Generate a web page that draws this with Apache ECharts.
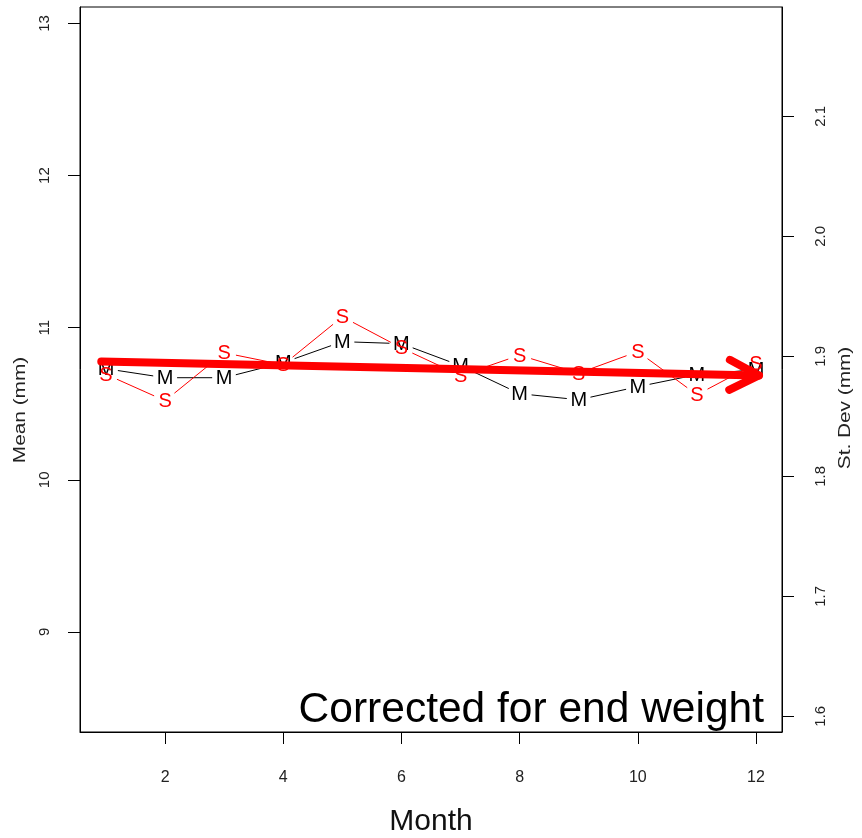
<!DOCTYPE html>
<html>
<head>
<meta charset="utf-8">
<script src="https://cdn.jsdelivr.net/npm/echarts@6/dist/echarts.min.js"></script>
<style>
html,body{margin:0;padding:0;background:#fff;}
#chart{width:862px;height:838px;}
</style>
</head>
<body>
<div id="chart"></div>
<script>
// ---- data ----
const months = [1,2,3,4,5,6,7,8,9,10,11,12];
const meanValues = [10.730,10.671,10.671,10.770,10.908,10.895,10.750,10.566,10.526,10.612,10.691,10.724];
const sdValues = [1.885,1.863,1.903,1.893,1.933,1.907,1.884,1.901,1.886,1.904,1.868,1.894];
const xTicks = [2,4,6,8,10,12];
const meanTicks = [9,10,11,12,13];
const sdTicks = [1.6,1.7,1.8,1.9,2.0,2.1];
// arrow annotation (month, mean) start and end
const arrowStart = [0.92, 10.777];
const arrowEnd = [12.05, 10.686];
const noteText = 'Corrected for end weight';

const meanData = months.map((m,i)=>[m, meanValues[i]]);
const sdData = months.map((m,i)=>[m, sdValues[i]]);

const GAP = 12;
function makeRender(data, color, letter){
  return function(params, api){
    const i = params.dataIndex;
    const p = api.coord(data[i]);
    const children = [];
    if (i < data.length - 1){
      const q = api.coord(data[i+1]);
      const dx = q[0]-p[0], dy = q[1]-p[1];
      const L = Math.hypot(dx, dy);
      if (L > 2*GAP){
        children.push({type:'line', shape:{x1:p[0]+dx/L*GAP, y1:p[1]+dy/L*GAP, x2:q[0]-dx/L*GAP, y2:q[1]-dy/L*GAP},
          style:{stroke:color, lineWidth:1}});
      }
    }
    children.push({type:'text', style:{text:letter, x:p[0], y:p[1]+1, fill:color,
      font:'20px "Liberation Sans", Arial, sans-serif', align:'center', verticalAlign:'middle'}});
    return {type:'group', children};
  };
}

function renderArrow(params, api){
  const p0 = api.coord([api.value(0), api.value(1)]);
  const p1 = api.coord([api.value(2), api.value(3)]);
  const dx = p1[0]-p0[0], dy = p1[1]-p0[1];
  const L = Math.hypot(dx, dy);
  const ux = dx/L, uy = dy/L;
  const headLen = 33, ang = 27*Math.PI/180;
  const c = Math.cos(ang), s = Math.sin(ang);
  const a1 = [p1[0] - headLen*(ux*c - uy*s), p1[1] - headLen*(uy*c + ux*s)];
  const a2 = [p1[0] - headLen*(ux*c + uy*s), p1[1] - headLen*(uy*c - ux*s)];
  const st = {stroke:'#ff0000', lineWidth:8, lineCap:'round', lineJoin:'round', fill:null};
  return {type:'group', children:[
    {type:'polyline', shape:{points:[p0, p1]}, style:st},
    {type:'polyline', shape:{points:[a1, p1, a2]}, style:st}
  ]};
}

const chart = echarts.init(document.getElementById('chart'), null, {renderer:'canvas'});
const labelFont = {fontFamily:'"Liberation Sans", Arial, sans-serif', fontSize:15, color:'#222'};
const option = {
  animation:false,
  backgroundColor:'#fff',
  grid:{left:80, right:80, top:7, bottom:106, show:true, borderColor:'#000', borderWidth:1, backgroundColor:'transparent'},
  xAxis:{type:'value', min:0.56, max:12.44,
    axisLine:{show:true, lineStyle:{color:'#000', width:1}},
    axisTick:{show:true, length:12, inside:false, customValues:xTicks, lineStyle:{color:'#000'}},
    axisLabel:{customValues:xTicks, margin:38, fontFamily:'"Liberation Sans Narrow", "Liberation Sans", Arial, sans-serif', fontSize:16, color:'#222'},
    splitLine:{show:false}
  },
  yAxis:[
    {type:'value', position:'left', min:8.342, max:13.108,
      axisLine:{show:true, onZero:false, lineStyle:{color:'#000', width:1}},
      axisTick:{show:true, length:12, inside:false, customValues:meanTicks, lineStyle:{color:'#000'}},
      axisLabel:Object.assign({customValues:meanTicks, rotate:90, margin:28}, labelFont),
      splitLine:{show:false}
    },
    {type:'value', position:'right', min:1.5869, max:2.1912,
      axisLine:{show:true, onZero:false, lineStyle:{color:'#000', width:1}},
      axisTick:{show:true, length:12, inside:false, customValues:sdTicks, lineStyle:{color:'#000'}},
      axisLabel:Object.assign({customValues:sdTicks, rotate:90, margin:31, formatter:v=>v.toFixed(1)}, labelFont),
      splitLine:{show:false}
    }
  ],
  series:[
    {type:'custom', name:'Mean', xAxisIndex:0, yAxisIndex:0, data:meanData, renderItem:makeRender(meanData,'#000','M'), z:2, clip:false},
    {type:'custom', name:'St. Dev', xAxisIndex:0, yAxisIndex:1, data:sdData, renderItem:makeRender(sdData,'#ff0000','S'), z:3, clip:false},
    {type:'custom', name:'Trend', xAxisIndex:0, yAxisIndex:0, data:[[arrowStart[0],arrowStart[1],arrowEnd[0],arrowEnd[1]]],
      encode:{x:[0,2], y:[1,3]}, renderItem:renderArrow, z:4, clip:false}
  ],
  graphic:[
    {type:'text', x:764, y:710, z:10, style:{text:noteText, font:'42.5px "Liberation Sans", Arial, sans-serif', fill:'#000', align:'right', verticalAlign:'middle'}},
    {type:'text', x:431, y:822, style:{text:'Month', font:'30px "Liberation Sans", Arial, sans-serif', fill:'#111', align:'center', verticalAlign:'middle'}},
    {type:'text', x:21, y:410, rotation:Math.PI/2, scaleX:1.3, style:{text:'Mean (mm)', font:'16px "Liberation Sans", Arial, sans-serif', fill:'#222', align:'center', verticalAlign:'middle'}},
    {type:'text', x:846, y:408, rotation:Math.PI/2, scaleX:1.3, style:{text:'St. Dev (mm)', font:'16px "Liberation Sans", Arial, sans-serif', fill:'#222', align:'center', verticalAlign:'middle'}}
  ]
};
chart.setOption(option);
</script>
</body>
</html>
